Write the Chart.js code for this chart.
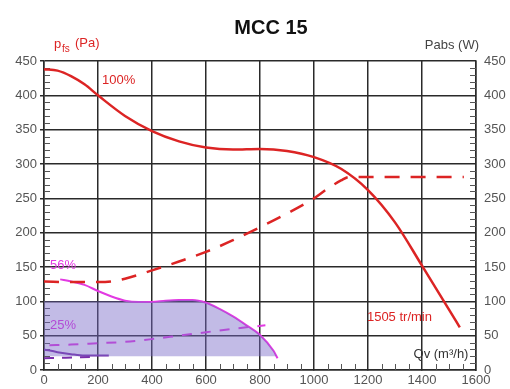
<!DOCTYPE html>
<html>
<head>
<meta charset="utf-8">
<script src="https://cdn.jsdelivr.net/npm/chart.js@4.4.1/dist/chart.umd.min.js"></script>
<style>
  html, body { margin: 0; padding: 0; background: #fff; }
  #wrap { width: 510px; height: 389px; }
</style>
</head>
<body>
<div id="wrap"><canvas id="chart"></canvas></div>
<script>
// values (Qv in m3/h, pfs in Pa, Pabs in W)
const xTicks = [0, 200, 400, 600, 800, 1000, 1200, 1400, 1600];
const yTicks = [0, 50, 100, 150, 200, 250, 300, 350, 400, 450];

const pfs100Qv = [0, 50, 100, 150, 200, 300, 400, 500, 600, 700, 800, 900, 1000, 1100, 1200, 1300, 1400, 1500, 1540];
const pfs100P  = [438, 436, 428, 416, 400, 370, 348, 333, 324, 321, 322, 319, 310, 293, 262, 215, 152, 88, 62];

const pabs100Qv = [0, 100, 200, 250, 300, 400, 500, 600, 700, 800, 900, 1000, 1050, 1100, 1130, 1555];
const pabs100W  = [129, 128, 128, 129, 133, 145, 158, 172, 189, 208, 228, 250, 264, 276, 281, 281];

const pfs56Qv = [60, 100, 150, 200, 250, 300, 350, 400, 450, 500, 550, 600, 650, 700, 750, 800, 850, 865];
const pfs56P  = [132, 129, 124, 115, 107, 101, 99, 99, 101, 102, 102, 98, 89, 78, 65, 51, 28, 17];

const pabs56Qv = [20, 100, 200, 300, 400, 500, 600, 700, 820];
const pabs56W  = [36, 37, 39, 41, 45, 50, 55, 60, 65];

const pfs25Qv = [0, 50, 100, 150, 240];
const pfs25P  = [30, 26, 23, 21, 21];

const pabs25Qv = [0, 80, 170];
const pabs25W  = [17, 18, 19];

// operating zone (shaded)
const zoneQv = [0, 350, 400, 450, 500, 550, 600, 650, 700, 750, 800, 850, 862];
const zoneP  = [100, 100, 99, 101, 102, 102, 98, 89, 78, 65, 51, 28, 20];
const zoneBase = 20;

const pts = (xs, ys) => xs.map((x, i) => ({ x: x, y: ys[i] }));

const FONT = '"Liberation Sans", Arial, sans-serif';
const RED = '#dc2424';
const MAGENTA = '#e23ae2';
const PURPLE = '#7a2eaa';

const decor = {
  id: 'decor',
  beforeDatasetsDraw(chart) {
    const ctx = chart.ctx;
    const xs = chart.scales.x, ys = chart.scales.y;
    const a = chart.chartArea;
    ctx.save();
    ctx.strokeStyle = '#555';
    ctx.lineWidth = 1;
    // minor ticks, x every 50
    for (let v = 50; v < 1600; v += 50) {
      if (v % 200 === 0) continue;
      const px = Math.round(xs.getPixelForValue(v)) + 0.5;
      ctx.beginPath();
      ctx.moveTo(px, a.bottom);
      ctx.lineTo(px, a.bottom - 6);
      ctx.stroke();
    }
    // minor ticks, y every 10 on both sides
    for (let v = 10; v < 450; v += 10) {
      if (v % 50 === 0) continue;
      const py = Math.round(ys.getPixelForValue(v)) + 0.5;
      ctx.beginPath();
      ctx.moveTo(a.left, py);
      ctx.lineTo(a.left + 6, py);
      ctx.moveTo(a.right, py);
      ctx.lineTo(a.right - 6, py);
      ctx.stroke();
    }
    ctx.restore();
  },
  afterDraw(chart) {
    const ctx = chart.ctx;
    const xs = chart.scales.x, ys = chart.scales.y;
    const a = chart.chartArea;
    ctx.save();
    ctx.textBaseline = 'middle';
    // title
    ctx.fillStyle = '#111';
    ctx.font = 'bold 20px ' + FONT;
    ctx.textAlign = 'center';
    ctx.fillText('MCC 15', 271, 28);
    // left axis title
    ctx.fillStyle = RED;
    ctx.textAlign = 'left';
    ctx.font = '13px ' + FONT;
    ctx.fillText('p', 54, 44);
    ctx.font = '10px ' + FONT;
    ctx.fillText('fs', 62, 49);
    ctx.font = '13px ' + FONT;
    ctx.fillText('(Pa)', 75, 43);
    // right axis title
    ctx.fillStyle = '#444';
    ctx.textAlign = 'right';
    ctx.fillText('Pabs (W)', a.right + 3, 45);
    // curve labels
    ctx.textAlign = 'left';
    ctx.fillStyle = RED;
    ctx.fillText('100%', xs.getPixelForValue(215), ys.getPixelForValue(421));
    ctx.fillText('1505 tr/min', xs.getPixelForValue(1196), ys.getPixelForValue(76));
    ctx.fillStyle = MAGENTA;
    ctx.fillText('56%', xs.getPixelForValue(22), ys.getPixelForValue(153));
    ctx.fillStyle = '#b24ad6';
    ctx.fillText('25%', xs.getPixelForValue(22), ys.getPixelForValue(65));
    ctx.fillStyle = '#333';
    ctx.textAlign = 'right';
    ctx.fillText('Qv (m\u00B3/h)', xs.getPixelForValue(1572), ys.getPixelForValue(22));
    ctx.restore();
  }
};

const smooth = { pointRadius: 0, cubicInterpolationMode: 'monotone' };

const ctx = document.getElementById('chart').getContext('2d');
const chart = new Chart(ctx, {
  type: 'line',
  data: {
    datasets: [
      Object.assign({
        label: 'zone',
        data: pts(zoneQv, zoneP),
        borderWidth: 0,
        borderColor: 'rgba(0,0,0,0)',
        backgroundColor: 'rgba(120,105,200,0.45)',
        fill: { value: zoneBase }
      }, smooth),
      Object.assign({
        label: 'pfs 100%',
        data: pts(pfs100Qv, pfs100P),
        borderColor: RED,
        borderWidth: 2.5
      }, smooth),
      Object.assign({
        label: 'Pabs 100%',
        data: pts(pabs100Qv, pabs100W),
        borderColor: RED,
        borderWidth: 2.5,
        borderDash: [15, 11],
        yAxisID: 'y2'
      }, smooth),
      Object.assign({
        label: 'pfs 56%',
        data: pts(pfs56Qv, pfs56P),
        borderColor: MAGENTA,
        borderWidth: 2
      }, smooth),
      Object.assign({
        label: 'Pabs 56%',
        data: pts(pabs56Qv, pabs56W),
        borderColor: MAGENTA,
        borderWidth: 2,
        borderDash: [10, 9],
        yAxisID: 'y2'
      }, smooth),
      Object.assign({
        label: 'pfs 25%',
        data: pts(pfs25Qv, pfs25P),
        borderColor: PURPLE,
        borderWidth: 2
      }, smooth),
      Object.assign({
        label: 'Pabs 25%',
        data: pts(pabs25Qv, pabs25W),
        borderColor: PURPLE,
        borderWidth: 2,
        borderDash: [10, 8],
        yAxisID: 'y2'
      }, smooth)
    ]
  },
  options: {
    responsive: true,
    maintainAspectRatio: false,
    animation: false,
    layout: { padding: { top: 61, left: 0, right: 0, bottom: 0 } },
    plugins: {
      legend: { display: false },
      tooltip: { enabled: false }
    },
    scales: {
      x: {
        type: 'linear',
        min: 0,
        max: 1600,
        afterBuildTicks: s => { s.ticks = xTicks.map(v => ({ value: v })); },
        afterFit: s => { s.height = 19; },
        grid: { color: '#2a2a2a', lineWidth: 1.5, tickLength: 0 },
        border: { color: '#2a2a2a', width: 1.5 },
        ticks: { color: '#555', font: { family: FONT, size: 13 }, padding: 3, maxRotation: 0, callback: v => String(v) }
      },
      y: {
        position: 'left',
        min: 0,
        max: 450,
        afterBuildTicks: s => { s.ticks = yTicks.map(v => ({ value: v })); },
        afterFit: s => { s.width = 44; },
        grid: { color: '#2a2a2a', lineWidth: 1.5, tickLength: 4 },
        border: { color: '#2a2a2a', width: 1.5 },
        ticks: { color: '#555', font: { family: FONT, size: 13 }, padding: 3, callback: v => String(v) }
      },
      y2: {
        position: 'right',
        min: 0,
        max: 450,
        afterBuildTicks: s => { s.ticks = yTicks.map(v => ({ value: v })); },
        afterFit: s => { s.width = 34; },
        grid: { display: false, drawTicks: true, tickLength: 4 },
        border: { color: '#2a2a2a', width: 1.5 },
        ticks: { color: '#555', font: { family: FONT, size: 13 }, padding: 4, callback: v => String(v) }
      }
    }
  },
  plugins: [decor]
});
</script>
</body>
</html>
